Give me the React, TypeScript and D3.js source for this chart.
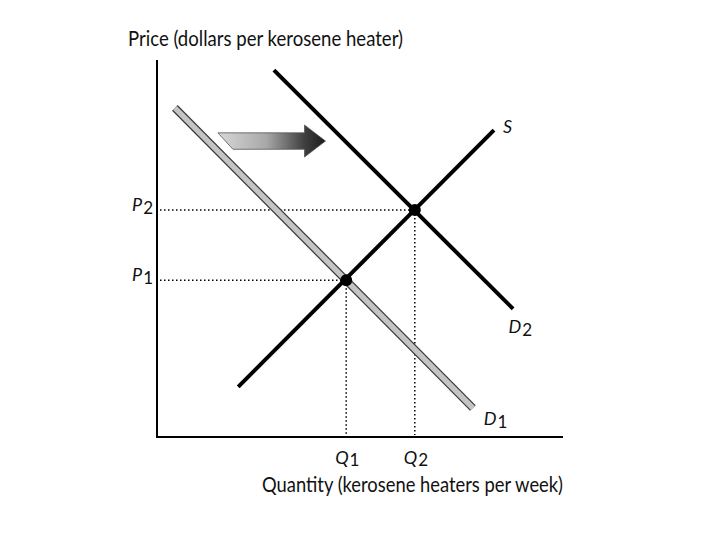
import React from "react";
import * as d3 from "d3";

// Curves (quantity, price) endpoints in chart units
const supply: [number, number][] = [[20, 13.3], [83, 81.4]];
const demand1: [number, number][] = [[4.4, 87.3], [77.8, 7.7]];
const demand2: [number, number][] = [[28.8, 97.3], [87.7, 34]];
const equilibria: { q: number; p: number; qLabel: string; pLabel: string }[] = [
  { q: 46.6, p: 41.6, qLabel: "1", pLabel: "1" },
  { q: 63.5, p: 60.2, qLabel: "2", pLabel: "2" },
];
const shiftArrow = { from: 15, to: 41.5, p: 78.5 };
const curveLabels = [
  { main: "S", sub: "", q: 85.2, p: 80.6 },
  { main: "D", sub: "2", q: 86.6, p: 27.5 },
  { main: "D", sub: "1", q: 80.5, p: 3.2 },
];
const yTitle = "Price (dollars per kerosene heater)";
const xTitle = "Quantity (kerosene heaters per week)";

const W = 720, H = 540;
const x = d3.scaleLinear().domain([0, 100]).range([157, 563]);
const y = d3.scaleLinear().domain([0, 100]).range([437, 60]);
const line = d3.line<[number, number]>().x(d => x(d[0])).y(d => y(d[1]));
const FONT = "Lato, 'Open Sans', sans-serif";

export default function App() {
  const ay = y(shiftArrow.p);
  const ax0 = x(shiftArrow.from), ax1 = x(shiftArrow.to);
  const bodyH = 8.2, headH = 16, headL = 21;
  const arrowPath = [
    [ax0, ay - bodyH],
    [ax1 - headL, ay - bodyH],
    [ax1 - headL, ay - headH],
    [ax1, ay],
    [ax1 - headL, ay + headH],
    [ax1 - headL, ay + bodyH],
    [ax0 + 15, ay + bodyH],
  ].map(p => p.join(",")).join(" ");
  return (
    <svg width={W} height={H} style={{ position: "absolute", left: 0, top: 0, background: "#fff" }} fontFamily={FONT}>
      <defs>
        <linearGradient id="ag" x1="0" x2="1" y1="0" y2="0">
          <stop offset="0" stopColor="#d8d8d8" />
          <stop offset="0.45" stopColor="#a8a8a8" />
          <stop offset="0.8" stopColor="#404040" />
          <stop offset="1" stopColor="#1a1a1a" />
        </linearGradient>
      </defs>
      {/* axes */}
      <line x1={x(0)} x2={x(0)} y1={y(100)} y2={y(0)} stroke="#000" strokeWidth={2} />
      <line x1={x(0) - 1} x2={x(100)} y1={y(0)} y2={y(0)} stroke="#000" strokeWidth={2} />
      <text x={128} y={46} fontSize={20.5} fill="#111" textLength={275} lengthAdjust="spacingAndGlyphs">{yTitle}</text>
      <text x={262} y={492} fontSize={20.5} fill="#111" textLength={301} lengthAdjust="spacingAndGlyphs">{xTitle}</text>
      {/* dotted guides */}
      {equilibria.map((e, i) => (
        <g key={i}>
          <line x1={x(0) + 3} x2={x(e.q)} y1={y(e.p)} y2={y(e.p)} stroke="#000" strokeWidth={1.5} strokeDasharray="1.5,2.5" />
          <line x1={x(e.q)} x2={x(e.q)} y1={y(e.p)} y2={y(0) - 2} stroke="#000" strokeWidth={1.5} strokeDasharray="1.5,2.5" />
          <text x={x(0) - 25} y={y(e.p) + 1} fontSize={18} fill="#111">
            <tspan fontStyle="italic">P</tspan>
            <tspan fontSize={17} dx={1} dy={3}>{e.pLabel}</tspan>
          </text>
          <text x={x(e.q) - 11} y={y(0) + 27} fontSize={18} fill="#111">
            <tspan fontStyle="italic">Q</tspan>
            <tspan fontSize={17} dx={1} dy={2}>{e.qLabel}</tspan>
          </text>
        </g>
      ))}
      {/* D1 gray curve */}
      <path d={line(demand1) || ""} stroke="#3a3a3a" strokeWidth={8} fill="none" />
      <path d={line(demand1) || ""} stroke="#c4c4c4" strokeWidth={5.5} fill="none" />
      {/* S and D2 */}
      <path d={line(supply) || ""} stroke="#000" strokeWidth={4} fill="none" />
      <path d={line(demand2) || ""} stroke="#000" strokeWidth={4} fill="none" />
      {equilibria.map((e, i) => (
        <circle key={i} cx={x(e.q)} cy={y(e.p)} r={6} fill="#000" />
      ))}
      {/* shift arrow */}
      <polygon points={arrowPath} fill="url(#ag)" stroke="#555" strokeWidth={0.8} />
      {curveLabels.map((c, i) => (
        <text key={i} x={x(c.q)} y={y(c.p)} fontSize={18} fill="#111">
          <tspan fontStyle="italic">{c.main}</tspan>
          {c.sub && <tspan fontSize={17} dx={1} dy={3}>{c.sub}</tspan>}
        </text>
      ))}
    </svg>
  );
}
